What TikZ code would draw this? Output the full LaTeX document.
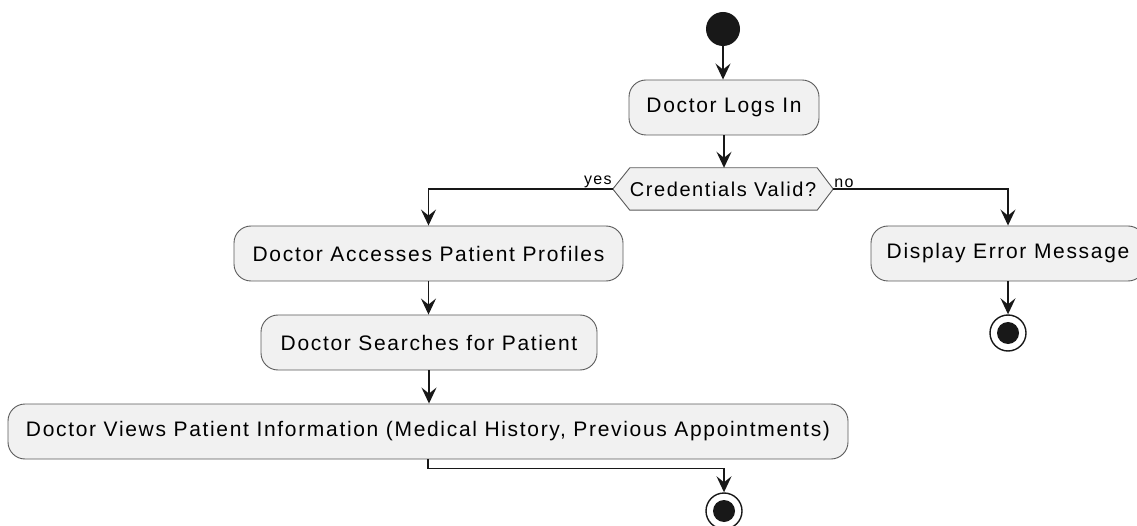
\documentclass[tikz,border=0pt]{standalone}
\usepackage{fontspec}
\newfontfamily\umlfont{Liberation Sans}[LetterSpace=8]
\usetikzlibrary{arrows.meta}
\definecolor{actfill}{HTML}{F1F1F1}
\definecolor{actline}{HTML}{181818}
\definecolor{boxline}{HTML}{5A5A5A}
\pgfdeclarelayer{bg}\pgfsetlayers{bg,main}
\begin{document}
\begin{tikzpicture}[x=1pt,y=-1pt,
 act/.style={draw=boxline,fill=actfill,line width=0.9pt,rounded corners=17pt,minimum height=55pt,inner sep=0pt,font=\umlfont\fontsize{21}{23}\selectfont,text=black},
 flow/.style={draw=actline,line width=1.6pt,-{Stealth[length=16pt,width=15pt,inset=6pt]}},
 lbl/.style={font=\umlfont\fontsize{16}{18}\selectfont,inner sep=1pt,text=black},
 startnode/.style={circle,fill=actline,minimum size=34pt,inner sep=0pt},
 endnode/.style={circle,draw=actline,fill=white,line width=1.4pt,minimum size=36pt,inner sep=0pt,
   path picture={\fill[actline] (path picture bounding box.center) circle (11pt);}}]
\useasboundingbox (0,0) rectangle (1137,526);
\node[startnode] (start) at (723,29) {};
\node[act,minimum width=190pt] (login) at (724,107.5) {Doctor Logs In};
\node[minimum width=220pt,minimum height=42pt,inner sep=0pt,font=\umlfont\fontsize{20}{22}\selectfont,text=black] (dec) at (723,189) {Credentials Valid?};
\begin{pgfonlayer}{bg}
\draw[draw=boxline,fill=actfill,line width=0.9pt] (dec.west) -- ([xshift=17pt]dec.north west) -- ([xshift=-16pt]dec.north east) -- (dec.east) -- ([xshift=-16pt]dec.south east) -- ([xshift=17pt]dec.south west) -- cycle;
\end{pgfonlayer}
\node[act,minimum width=389pt] (acc) at (428.5,253.5) {Doctor Accesses Patient Profiles};
\node[act,minimum width=274pt] (disp) at (1008,253.5) {Display Error Message};
\node[act,minimum width=336pt] (search) at (429,342.5) {Doctor Searches for Patient};
\node[act,minimum width=840pt] (views) at (428,431.5) {Doctor Views Patient Information (Medical History, Previous Appointments)};
\node[endnode] (end1) at (1008,333) {};
\node[endnode] (end2) at (724,511) {};
\node[lbl,anchor=south east] (yes) at (dec.west) {yes};
\node[lbl,anchor=south west] (no) at (dec.east) {no};
\draw[flow] (start.south) -- (start.south |- login.north);
\draw[flow] (login.south) -- (login.south |- dec.north);
\draw[flow] (dec.west) -| (acc.north);
\draw[flow] (dec.east) -| (disp.north);
\draw[flow] (acc.south) -- (acc.south |- search.north);
\draw[flow] (search.south) -- (search.south |- views.north);
\draw[flow] (disp.south) -- (end1.north);
\draw[flow] (views.south) -- ++(0,9) -| (end2.north);
\end{tikzpicture}
\end{document}
